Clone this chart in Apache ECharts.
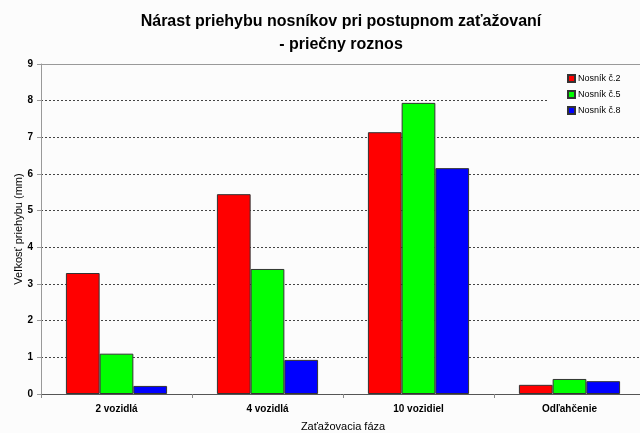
<!DOCTYPE html>
<html>
<head>
<meta charset="utf-8">
<script src="https://cdn.jsdelivr.net/npm/echarts@6/dist/echarts.min.js"></script>
<style>
  html, body { margin: 0; padding: 0; background: #fcfcfc; }
  #chart { width: 640px; height: 433px; }
</style>
</head>
<body>
<div id="chart"></div>
<script>
  var categories = ['2 vozidlá', '4 vozidlá', '10 vozidiel', 'Odľahčenie'];
  var nosnik2 = [3.30, 5.45, 7.14, 0.25];
  var nosnik5 = [1.10, 3.41, 7.94, 0.41];
  var nosnik8 = [0.22, 0.93, 6.16, 0.35];
  var yTicks = [0, 1, 2, 3, 4, 5, 6, 7, 8, 9];

  var font = 'Liberation Sans, Arial, sans-serif';
  var chart = echarts.init(document.getElementById('chart'));

  function bar(name, data, color) {
    return {
      name: name,
      type: 'bar',
      data: data,
      barGap: '0%',
      barCategoryGap: '33%',
      itemStyle: { color: color, borderColor: '#333', borderWidth: 1 }
    };
  }

  var option = {
    backgroundColor: '#fcfcfc',
    animation: false,
    title: {
      text: 'Nárast priehybu nosníkov pri postupnom zaťažovaní\n- priečny roznos',
      left: 336,
      textAlign: 'center',
      top: 5,
      textStyle: { fontFamily: font, fontSize: 16, fontWeight: 'bold', color: '#000', lineHeight: 23 }
    },
    legend: {
      orient: 'vertical',
      left: 547,
      top: 68,
      itemWidth: 7,
      itemHeight: 7,
      itemGap: 7,
      padding: [6, 20, 8, 20],
      backgroundColor: '#fcfcfc',
      textStyle: { fontFamily: font, fontSize: 9, color: '#000', padding: [0, 0, 0, -2] },
      data: [
        { name: 'Nosník č.2', icon: 'rect' },
        { name: 'Nosník č.5', icon: 'rect' },
        { name: 'Nosník č.8', icon: 'rect' }
      ]
    },
    grid: { left: 41, right: -5, top: 64, bottom: 39, outerBoundsMode: 'none', containLabel: false },
    xAxis: {
      type: 'category',
      data: categories,
      name: 'Zaťažovacia fáza',
      nameLocation: 'middle',
      nameGap: 27,
      nameMoveOverlap: false,
      nameTextStyle: { fontFamily: font, fontSize: 11, color: '#000' },
      axisLine: { lineStyle: { color: '#555' } },
      axisTick: { show: true, alignWithLabel: false, length: 4, lineStyle: { color: '#888' } },
      axisLabel: { fontFamily: font, fontSize: 10, fontWeight: 'bold', color: '#000', margin: 10 }
    },
    yAxis: {
      type: 'value',
      min: yTicks[0],
      max: yTicks[yTicks.length - 1],
      interval: 1,
      name: 'Veľkosť priehybu (mm)',
      nameLocation: 'middle',
      nameGap: 17,
      nameMoveOverlap: false,
      nameTextStyle: { fontFamily: font, fontSize: 11, color: '#000' },
      axisLine: { show: true, lineStyle: { color: '#999' } },
      axisTick: { show: true, length: 4, lineStyle: { color: '#999' } },
      axisLabel: { fontFamily: font, fontSize: 10, fontWeight: 'bold', color: '#000', margin: 8 },
      splitLine: { lineStyle: { color: '#444', type: [2, 2] } }
    },
    series: [
      bar('Nosník č.2', nosnik2, '#ff0000'),
      bar('Nosník č.5', nosnik5, '#00ff00'),
      bar('Nosník č.8', nosnik8, '#0000ff'),
      {
        type: 'line',
        data: [],
        markLine: {
          silent: true,
          symbol: 'none',
          label: { show: false },
          lineStyle: { color: '#999', type: 'solid', width: 1 },
          data: [{ yAxis: yTicks[yTicks.length - 1] }]
        }
      }
    ]
  };
  chart.setOption(option);
</script>
</body>
</html>
